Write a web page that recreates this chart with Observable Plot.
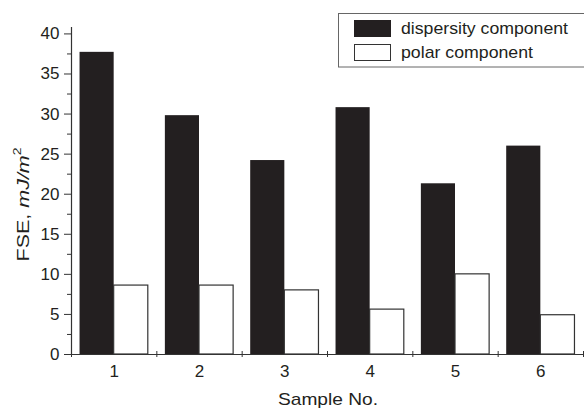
<!DOCTYPE html>
<html>
<head>
<meta charset="utf-8">
<script src="https://cdn.jsdelivr.net/npm/d3@7"></script>
<script src="https://cdn.jsdelivr.net/npm/@observablehq/plot@0.6"></script>
<style>
  html, body { margin: 0; padding: 0; background: #fff; }
  #chart { width: 584px; height: 408px; }
</style>
</head>
<body>
<div id="chart"></div>
<script>
const samples = [1, 2, 3, 4, 5, 6];
const sampleLabels = ["1", "2", "3", "4", "5", "6"];
const dispersity = [37.7, 29.8, 24.2, 30.8, 21.3, 26.0];
const polar = [8.6, 8.6, 8.0, 5.6, 10.0, 4.9];
const yTicks = [0, 5, 10, 15, 20, 25, 30, 35, 40];
const yMinorTicks = [2.5, 7.5, 12.5, 17.5, 22.5, 27.5, 32.5, 37.5];
const xSepTicks = [0.5, 1.5, 2.5, 3.5, 4.5, 5.5, 6.5];
const seriesNames = ["dispersity component", "polar component"];

const ink = "#231f20";
const rows = [];
samples.forEach((s, i) => {
  rows.push({sample: s, series: seriesNames[0], value: dispersity[i], lo: s - 0.4, hi: s});
  rows.push({sample: s, series: seriesNames[1], value: polar[i], lo: s, hi: s + 0.4});
});

const plot = Plot.plot({
  width: 584,
  height: 408,
  marginLeft: 71,
  marginRight: 1,
  marginTop: 27,
  marginBottom: 54,
  style: {fontFamily: "'Liberation Sans', Arial, sans-serif", fontSize: "17px", color: ink, background: "#fff"},
  x: {type: "linear", domain: [0.5, 6.5], axis: null},
  y: {domain: [0, 40.8], axis: null},
  marks: [
    Plot.rectY(rows.filter(d => d.series === seriesNames[0]), {x1: "lo", x2: "hi", y1: 0, y2: "value", fill: ink}),
    Plot.rectY(rows.filter(d => d.series === seriesNames[1]), {x1: "lo", x2: "hi", y1: 0, y2: "value", fill: "#fff", stroke: "#333", strokeWidth: 1.2}),
    Plot.ruleY([0], {stroke: "#333", strokeWidth: 1.2}),
    Plot.ruleX([0.5], {stroke: "#333", strokeWidth: 1.2}),
    Plot.axisY({ticks: yTicks, tickSize: 7, tickPadding: 5, fontSize: 17, label: null, stroke: "#333"}),
    Plot.axisY({ticks: yMinorTicks, tickSize: 4, tickFormat: () => "", label: null, stroke: "#333"}),
    Plot.axisX({ticks: xSepTicks, tickSize: 6, dy: -3, tickFormat: () => "", label: null, stroke: "#333"}),
    Plot.axisX({ticks: samples, tickSize: 0, tickPadding: 10, fontSize: 17, tickFormat: (d, i) => sampleLabels[i], label: null})
  ]
});

document.getElementById("chart").appendChild(plot);

const svg = d3.select(plot);
const ff = "'Liberation Sans', Arial, sans-serif";

// Y axis title
const yl = svg.append("text")
  .attr("transform", "translate(28.5,204.5) rotate(-90)")
  .attr("text-anchor", "middle")
  .attr("font-family", ff)
  .attr("font-size", 17)
  .attr("fill", ink)
  .attr("textLength", 114)
  .attr("lengthAdjust", "spacingAndGlyphs");
yl.append("tspan").text("FSE, ");
yl.append("tspan").attr("font-style", "italic").text("mJ/m");
yl.append("tspan").attr("font-size", 11).attr("dy", -8).text("2");

// X axis title
svg.append("text")
  .attr("x", 328)
  .attr("y", 405)
  .attr("text-anchor", "middle")
  .attr("font-family", ff)
  .attr("font-size", 17)
  .attr("fill", ink)
  .attr("textLength", 100)
  .attr("lengthAdjust", "spacingAndGlyphs")
  .text("Sample No.");

// Legend
const lg = svg.append("g");
lg.append("rect").attr("x", 338.5).attr("y", 13.5).attr("width", 260).attr("height", 53.5)
  .attr("fill", "#fff").attr("stroke", "#666").attr("stroke-width", 1);
lg.append("rect").attr("x", 354).attr("y", 20).attr("width", 37).attr("height", 17).attr("fill", ink);
lg.append("rect").attr("x", 354.5).attr("y", 44.5).attr("width", 36).attr("height", 16)
  .attr("fill", "#fff").attr("stroke", "#333").attr("stroke-width", 1);
const legendLengths = [167, 132];
seriesNames.forEach((name, i) => {
  lg.append("text")
    .attr("x", 401).attr("y", 34 + i * 24)
    .attr("text-anchor", "start")
    .attr("font-family", ff).attr("font-size", 17).attr("fill", ink)
    .attr("textLength", legendLengths[i]).attr("lengthAdjust", "spacingAndGlyphs")
    .text(name);
});
</script>
</body>
</html>
